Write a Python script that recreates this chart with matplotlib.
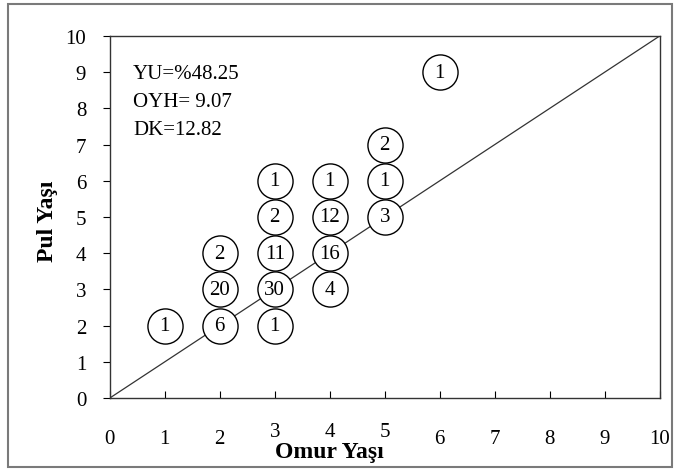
import matplotlib.pyplot as plt
from matplotlib.patches import Rectangle
from matplotlib.transforms import ScaledTranslation

plt.rcParams['font.family'] = ['Liberation Serif', 'DejaVu Serif']

# Omur yaşı (x), pul yaşı (y) ve her noktadaki balık sayısı
omur_yasi = [1, 2, 2, 2, 3, 3, 3, 3, 3, 4, 4, 4, 4, 5, 5, 5, 6]
pul_yasi = [2, 2, 3, 4, 2, 3, 4, 5, 6, 3, 4, 5, 6, 5, 6, 7, 9]
adet = [1, 6, 20, 2, 1, 30, 11, 2, 1, 4, 16, 12, 1, 3, 1, 2, 1]

istatistik = ["YU=%48.25", "OYH= 9.07", "DK=12.82"]
ticks = list(range(0, 11))

fig = plt.figure(figsize=(6.78, 4.77), dpi=100)
ax = fig.add_axes([0.162, 0.1635, 0.811, 0.759])

# dış çerçeve
fig.patches.append(Rectangle((0.012, 0.019), 0.979, 0.971, transform=fig.transFigure,
                             fill=False, edgecolor='#7a7a7a', linewidth=1.5))

# 1:1 doğrusu
ax.plot([0, 10], [0, 10], color='#333333', linewidth=0.9, zorder=1)

ax.scatter(omur_yasi, pul_yasi, s=640, facecolor='white', edgecolor='black',
           linewidth=1.0, zorder=2)
for x, y, n in zip(omur_yasi, pul_yasi, adet):
    ax.text(x, y, str(n), ha='center', va='center', fontsize=15, zorder=3)

for i, s in enumerate(istatistik):
    ax.text(0.42, 8.95 - i * 0.77, s, ha='left', va='center', fontsize=15)

ax.set_xlim(0, 10)
ax.set_ylim(0, 10)
ax.set_xticks(ticks)
ax.set_yticks(ticks)
ax.tick_params(axis='x', direction='in', length=5, pad=22, labelsize=15)
ax.tick_params(axis='y', direction='out', length=5, pad=12, labelsize=15)
for sp in ax.spines.values():
    sp.set_linewidth(1.0)
    sp.set_color('#333333')

# eksen adının üstüne binmesin diye 3, 4, 5 etiketleri biraz yukarıda
for lbl in ax.get_xticklabels()[3:6]:
    lbl.set_transform(lbl.get_transform() + ScaledTranslation(0, 5 / 72, fig.dpi_scale_trans))

ax.set_xlabel("Omur Yaşı", fontsize=17, fontweight='bold')
ax.xaxis.set_label_coords(0.40, -0.12)
ax.set_ylabel("Pul Yaşı", fontsize=17, fontweight='bold')
ax.yaxis.set_label_coords(-0.095, 0.49)

plt.savefig("out.png", dpi=100)
